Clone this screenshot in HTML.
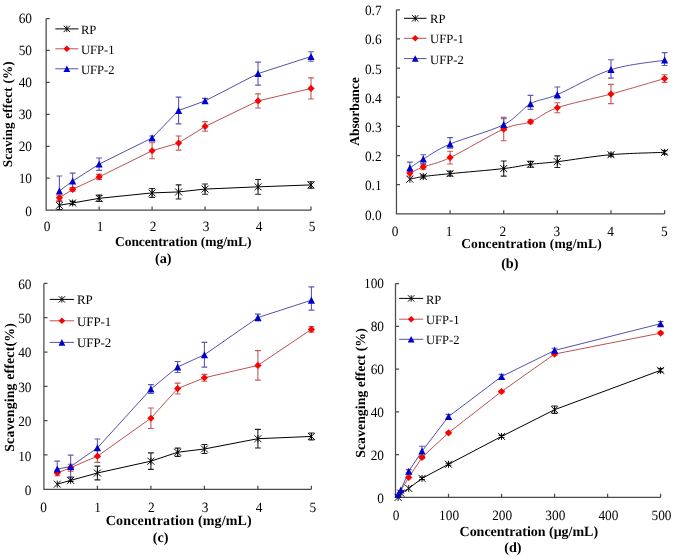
<!DOCTYPE html>
<html><head><meta charset="utf-8"><style>
html,body{margin:0;padding:0;background:#fff;}
svg{display:block;font-family:"Liberation Serif",serif;text-rendering:geometricPrecision;}
.w{position:absolute;left:0;top:0;will-change:transform;filter:blur(0.35px);}
</style></head><body>
<div class="w"><svg width="675" height="558" viewBox="0 0 675 558">
<rect width="675" height="558" fill="#fff"/>
<path d="M46.15,18.50L46.15,210.15L311.00,210.15M46.15,210.15h3.6M46.15,178.21h3.6M46.15,146.27h3.6M46.15,114.33h3.6M46.15,82.38h3.6M46.15,50.44h3.6M46.15,18.50h3.6M46.15,210.15v-3.6M99.12,210.15v-3.6M152.09,210.15v-3.6M205.06,210.15v-3.6M258.03,210.15v-3.6M311.00,210.15v-3.6" stroke="#4a4a4a" stroke-width="1.25" fill="none"/>
<text transform="translate(32.00,215.60) scale(0.94,1)" font-size="14.2" text-anchor="end" font-weight="normal" >0</text>
<text transform="translate(32.00,183.43) scale(0.94,1)" font-size="14.2" text-anchor="end" font-weight="normal" >10</text>
<text transform="translate(32.00,151.27) scale(0.94,1)" font-size="14.2" text-anchor="end" font-weight="normal" >20</text>
<text transform="translate(32.00,119.10) scale(0.94,1)" font-size="14.2" text-anchor="end" font-weight="normal" >30</text>
<text transform="translate(32.00,86.93) scale(0.94,1)" font-size="14.2" text-anchor="end" font-weight="normal" >40</text>
<text transform="translate(32.00,54.77) scale(0.94,1)" font-size="14.2" text-anchor="end" font-weight="normal" >50</text>
<text transform="translate(32.00,22.60) scale(0.94,1)" font-size="14.2" text-anchor="end" font-weight="normal" >60</text>
<text transform="translate(47.00,230.80) scale(0.94,1)" font-size="14.2" text-anchor="middle" font-weight="normal" >0</text>
<text transform="translate(100.00,230.80) scale(0.94,1)" font-size="14.2" text-anchor="middle" font-weight="normal" >1</text>
<text transform="translate(153.00,230.80) scale(0.94,1)" font-size="14.2" text-anchor="middle" font-weight="normal" >2</text>
<text transform="translate(206.00,230.80) scale(0.94,1)" font-size="14.2" text-anchor="middle" font-weight="normal" >3</text>
<text transform="translate(259.00,230.80) scale(0.94,1)" font-size="14.2" text-anchor="middle" font-weight="normal" >4</text>
<text transform="translate(312.00,230.80) scale(0.94,1)" font-size="14.2" text-anchor="middle" font-weight="normal" >5</text>
<path d="M59.39,201.21V209.51M56.49,201.21h5.8M56.49,209.51h5.8M72.64,201.37V204.56M69.73,201.37h5.8M69.73,204.56h5.8M99.12,195.14V201.53M96.22,195.14h5.8M96.22,201.53h5.8M152.09,188.43V197.37M149.19,188.43h5.8M149.19,197.37h5.8M178.58,184.92V198.97M175.68,184.92h5.8M175.68,198.97h5.8M205.06,183.96V194.18M202.16,183.96h5.8M202.16,194.18h5.8M258.03,179.49V194.18M255.13,179.49h5.8M255.13,194.18h5.8M311.00,181.72V188.11M308.10,181.72h5.8M308.10,188.11h5.8" stroke="#202020" stroke-width="1.1" fill="none"/>
<path d="M59.39,195.30V200.41M56.49,195.30h5.8M56.49,200.41h5.8M72.64,187.47V191.30M69.73,187.47h5.8M69.73,191.30h5.8M99.12,174.38V179.49M96.22,174.38h5.8M96.22,179.49h5.8M152.09,142.75V158.72M149.19,142.75h5.8M149.19,158.72h5.8M178.58,136.05V150.10M175.68,136.05h5.8M175.68,150.10h5.8M205.06,121.67V131.25M202.16,121.67h5.8M202.16,131.25h5.8M258.03,93.88V107.94M255.13,93.88h5.8M255.13,107.94h5.8M311.00,77.91V98.99M308.10,77.91h5.8M308.10,98.99h5.8" stroke="#c45a5a" stroke-width="1.1" fill="none"/>
<path d="M59.39,175.97V190.99M56.49,175.97h5.8M72.64,173.10V189.07M69.73,173.10h5.8M69.73,189.07h5.8M99.12,157.93V170.38M96.22,157.93h5.8M96.22,170.38h5.8M152.09,136.05V139.88M149.19,136.05h5.8M149.19,139.88h5.8M178.58,97.08V123.91M175.68,97.08h5.8M175.68,123.91h5.8M205.06,98.35V103.46M202.16,98.35h5.8M202.16,103.46h5.8M258.03,62.10V85.10M255.13,62.10h5.8M255.13,85.10h5.8M311.00,51.72V61.30M308.10,51.72h5.8M308.10,61.30h5.8" stroke="#5a5ab4" stroke-width="1.1" fill="none"/>
<path d="M59.39,205.36L72.64,202.96L99.12,198.33L152.09,192.90L178.58,191.94L205.06,189.07L258.03,186.83L311.00,184.92" stroke="#000000" stroke-width="1.0" fill="none"/>
<path d="M59.39,197.85L72.64,189.39L99.12,176.93L152.09,150.74L178.58,143.07L205.06,126.46L258.03,100.91L311.00,88.45" stroke="#bb5252" stroke-width="1.0" fill="none"/>
<path d="M59.39,190.99L72.64,181.08L99.12,164.15L152.09,137.96L178.58,110.49L205.06,100.91L258.03,73.60L311.00,56.51" stroke="#5252aa" stroke-width="1.0" fill="none"/>
<path d="M59.39,201.86L59.39,208.86M55.89,201.86L62.89,208.86M55.89,208.86L62.89,201.86" stroke="#000" stroke-width="0.95" fill="none"/>
<path d="M72.64,199.46L72.64,206.46M69.14,199.46L76.14,206.46M69.14,206.46L76.14,199.46" stroke="#000" stroke-width="0.95" fill="none"/>
<path d="M99.12,194.83L99.12,201.83M95.62,194.83L102.62,201.83M95.62,201.83L102.62,194.83" stroke="#000" stroke-width="0.95" fill="none"/>
<path d="M152.09,189.40L152.09,196.40M148.59,189.40L155.59,196.40M148.59,196.40L155.59,189.40" stroke="#000" stroke-width="0.95" fill="none"/>
<path d="M178.58,188.44L178.58,195.44M175.08,188.44L182.08,195.44M175.08,195.44L182.08,188.44" stroke="#000" stroke-width="0.95" fill="none"/>
<path d="M205.06,185.57L205.06,192.57M201.56,185.57L208.56,192.57M201.56,192.57L208.56,185.57" stroke="#000" stroke-width="0.95" fill="none"/>
<path d="M258.03,183.33L258.03,190.33M254.53,183.33L261.53,190.33M254.53,190.33L261.53,183.33" stroke="#000" stroke-width="0.95" fill="none"/>
<path d="M311.00,181.42L311.00,188.42M307.50,181.42L314.50,188.42M307.50,188.42L314.50,181.42" stroke="#000" stroke-width="0.95" fill="none"/>
<path d="M59.39,194.25L62.99,197.85L59.39,201.45L55.79,197.85Z" fill="#f00"/>
<path d="M72.64,185.79L76.23,189.39L72.64,192.99L69.04,189.39Z" fill="#f00"/>
<path d="M99.12,173.33L102.72,176.93L99.12,180.53L95.52,176.93Z" fill="#f00"/>
<path d="M152.09,147.14L155.69,150.74L152.09,154.34L148.49,150.74Z" fill="#f00"/>
<path d="M178.58,139.47L182.18,143.07L178.58,146.67L174.98,143.07Z" fill="#f00"/>
<path d="M205.06,122.86L208.66,126.46L205.06,130.06L201.46,126.46Z" fill="#f00"/>
<path d="M258.03,97.31L261.63,100.91L258.03,104.51L254.43,100.91Z" fill="#f00"/>
<path d="M311.00,84.85L314.60,88.45L311.00,92.05L307.40,88.45Z" fill="#f00"/>
<path d="M59.39,187.39L62.99,194.41L55.79,194.41Z" fill="#00c"/>
<path d="M72.64,177.48L76.23,184.50L69.04,184.50Z" fill="#00c"/>
<path d="M99.12,160.55L102.72,167.57L95.52,167.57Z" fill="#00c"/>
<path d="M152.09,134.36L155.69,141.38L148.49,141.38Z" fill="#00c"/>
<path d="M178.58,106.89L182.18,113.91L174.98,113.91Z" fill="#00c"/>
<path d="M205.06,97.31L208.66,104.33L201.46,104.33Z" fill="#00c"/>
<path d="M258.03,70.00L261.63,77.02L254.43,77.02Z" fill="#00c"/>
<path d="M311.00,52.91L314.60,59.93L307.40,59.93Z" fill="#00c"/>
<path d="M55.30,28.90H78.40" stroke="#000000" stroke-width="1.0"/>
<path d="M66.85,25.70L66.85,32.10M63.65,25.70L70.05,32.10M63.65,32.10L70.05,25.70" stroke="#000" stroke-width="0.95" fill="none"/>
<text transform="translate(80.90,34.05) scale(1.0,1)" font-size="12.6" text-anchor="start" font-weight="normal" >RP</text>
<path d="M55.30,48.80H78.40" stroke="#bb5252" stroke-width="1.0"/>
<path d="M66.85,45.50L70.15,48.80L66.85,52.10L63.55,48.80Z" fill="#f00"/>
<text transform="translate(80.90,53.95) scale(1.0,1)" font-size="12.6" text-anchor="start" font-weight="normal" >UFP-1</text>
<path d="M55.30,68.80H78.40" stroke="#5252aa" stroke-width="1.0"/>
<path d="M66.85,65.40L70.25,72.03L63.45,72.03Z" fill="#00c"/>
<text transform="translate(80.90,73.95) scale(1.0,1)" font-size="12.6" text-anchor="start" font-weight="normal" >UFP-2</text>
<text x="183.25" y="246.30" font-size="13.5" text-anchor="middle" font-weight="bold" textLength="136.5" lengthAdjust="spacing">Concentration (mg/mL)</text>
<text x="163.25" y="262.80" font-size="14.2" text-anchor="middle" font-weight="bold">(a)</text>
<text transform="translate(12.40,114.30) rotate(-90)" font-size="13.2" text-anchor="middle" font-weight="bold" textLength="106" lengthAdjust="spacing">Scaving effect (%)</text>
<path d="M396.45,9.75L396.45,213.90L664.60,213.90M396.45,213.90h3.6M396.45,184.74h3.6M396.45,155.57h3.6M396.45,126.41h3.6M396.45,97.24h3.6M396.45,68.08h3.6M396.45,38.91h3.6M396.45,9.75h3.6M396.45,213.90v-3.6M450.08,213.90v-3.6M503.71,213.90v-3.6M557.34,213.90v-3.6M610.97,213.90v-3.6M664.60,213.90v-3.6" stroke="#4a4a4a" stroke-width="1.25" fill="none"/>
<text transform="translate(381.60,219.60) scale(0.94,1)" font-size="14.2" text-anchor="end" font-weight="normal" >0.0</text>
<text transform="translate(381.60,190.40) scale(0.94,1)" font-size="14.2" text-anchor="end" font-weight="normal" >0.1</text>
<text transform="translate(381.60,161.20) scale(0.94,1)" font-size="14.2" text-anchor="end" font-weight="normal" >0.2</text>
<text transform="translate(381.60,132.00) scale(0.94,1)" font-size="14.2" text-anchor="end" font-weight="normal" >0.3</text>
<text transform="translate(381.60,102.80) scale(0.94,1)" font-size="14.2" text-anchor="end" font-weight="normal" >0.4</text>
<text transform="translate(381.60,73.60) scale(0.94,1)" font-size="14.2" text-anchor="end" font-weight="normal" >0.5</text>
<text transform="translate(381.60,44.40) scale(0.94,1)" font-size="14.2" text-anchor="end" font-weight="normal" >0.6</text>
<text transform="translate(381.60,15.20) scale(0.94,1)" font-size="14.2" text-anchor="end" font-weight="normal" >0.7</text>
<text transform="translate(395.20,235.70) scale(0.94,1)" font-size="14.2" text-anchor="middle" font-weight="normal" >0</text>
<text transform="translate(449.04,235.70) scale(0.94,1)" font-size="14.2" text-anchor="middle" font-weight="normal" >1</text>
<text transform="translate(502.88,235.70) scale(0.94,1)" font-size="14.2" text-anchor="middle" font-weight="normal" >2</text>
<text transform="translate(556.72,235.70) scale(0.94,1)" font-size="14.2" text-anchor="middle" font-weight="normal" >3</text>
<text transform="translate(610.56,235.70) scale(0.94,1)" font-size="14.2" text-anchor="middle" font-weight="normal" >4</text>
<text transform="translate(664.40,235.70) scale(0.94,1)" font-size="14.2" text-anchor="middle" font-weight="normal" >5</text>
<path d="M423.26,175.11V178.03M420.37,175.11h5.8M420.37,178.03h5.8M450.08,171.32V175.99M447.18,171.32h5.8M447.18,175.99h5.8M503.71,160.97V176.13M500.81,160.97h5.8M500.81,176.13h5.8M530.52,161.40V167.24M527.62,161.40h5.8M527.62,167.24h5.8M557.34,155.86V167.53M554.44,155.86h5.8M554.44,167.53h5.8M610.97,153.24V156.15M608.07,153.24h5.8M608.07,156.15h5.8M664.60,150.61V154.11M661.70,150.61h5.8M661.70,154.11h5.8" stroke="#202020" stroke-width="1.1" fill="none"/>
<path d="M409.86,170.15V175.99M406.96,170.15h5.8M406.96,175.99h5.8M423.26,164.61V169.28M420.37,164.61h5.8M420.37,169.28h5.8M450.08,151.20V164.03M447.18,151.20h5.8M447.18,164.03h5.8M503.71,117.37V140.70M500.81,117.37h5.8M500.81,140.70h5.8M530.52,119.70V123.78M527.62,119.70h5.8M527.62,123.78h5.8M557.34,102.78V112.70M554.44,102.78h5.8M554.44,112.70h5.8M610.97,84.41V103.66M608.07,84.41h5.8M608.07,103.66h5.8M664.60,74.79V82.37M661.70,74.79h5.8M661.70,82.37h5.8" stroke="#c45a5a" stroke-width="1.1" fill="none"/>
<path d="M409.86,162.13V173.80M406.96,162.13h5.8M406.96,173.80h5.8M423.26,154.70V163.45M420.37,154.70h5.8M420.37,163.45h5.8M450.08,137.64V148.13M447.18,137.64h5.8M447.18,148.13h5.8M503.71,118.82V130.49M500.81,118.82h5.8M500.81,130.49h5.8M530.52,95.35V109.35M527.62,95.35h5.8M527.62,109.35h5.8M557.34,87.04V98.70M554.44,87.04h5.8M554.44,98.70h5.8M610.97,59.77V78.14M608.07,59.77h5.8M608.07,78.14h5.8M664.60,52.62V65.45M661.70,52.62h5.8M661.70,65.45h5.8" stroke="#5a5ab4" stroke-width="1.1" fill="none"/>
<path d="M409.86,179.19C412.09,178.76 416.56,177.49 423.26,176.57C429.97,175.65 436.67,174.99 450.08,173.65C463.49,172.32 490.30,170.10 503.71,168.55C517.12,166.99 521.59,165.46 530.52,164.32C539.46,163.18 543.93,163.30 557.34,161.70C570.75,160.09 593.09,156.25 610.97,154.70C628.85,153.14 655.66,152.75 664.60,152.36" stroke="#000000" stroke-width="1.0" fill="none"/>
<path d="M409.86,173.07C412.09,172.05 416.56,169.52 423.26,166.95C429.97,164.37 436.67,163.93 450.08,157.61C463.49,151.29 490.30,135.01 503.71,129.03C517.12,123.05 521.59,125.29 530.52,121.74C539.46,118.19 543.93,112.36 557.34,107.74C570.75,103.12 593.09,98.90 610.97,94.03C628.85,89.17 655.66,81.15 664.60,78.58" stroke="#bb5252" stroke-width="1.0" fill="none"/>
<path d="M409.86,167.97C412.09,166.48 416.56,163.06 423.26,159.07C429.97,155.09 436.67,149.79 450.08,144.05C463.49,138.32 490.30,131.37 503.71,124.66C517.12,117.95 521.59,108.81 530.52,103.80C539.46,98.80 543.93,100.31 557.34,94.62C570.75,88.93 593.09,75.42 610.97,69.68C628.85,63.95 655.66,61.78 664.60,60.20" stroke="#5252aa" stroke-width="1.0" fill="none"/>
<path d="M409.86,175.69L409.86,182.69M406.36,175.69L413.36,182.69M406.36,182.69L413.36,175.69" stroke="#000" stroke-width="0.95" fill="none"/>
<path d="M423.26,173.07L423.26,180.07M419.76,173.07L426.76,180.07M419.76,180.07L426.76,173.07" stroke="#000" stroke-width="0.95" fill="none"/>
<path d="M450.08,170.15L450.08,177.15M446.58,170.15L453.58,177.15M446.58,177.15L453.58,170.15" stroke="#000" stroke-width="0.95" fill="none"/>
<path d="M503.71,165.05L503.71,172.05M500.21,165.05L507.21,172.05M500.21,172.05L507.21,165.05" stroke="#000" stroke-width="0.95" fill="none"/>
<path d="M530.52,160.82L530.52,167.82M527.02,160.82L534.02,167.82M527.02,167.82L534.02,160.82" stroke="#000" stroke-width="0.95" fill="none"/>
<path d="M557.34,158.20L557.34,165.20M553.84,158.20L560.84,165.20M553.84,165.20L560.84,158.20" stroke="#000" stroke-width="0.95" fill="none"/>
<path d="M610.97,151.20L610.97,158.20M607.47,151.20L614.47,158.20M607.47,158.20L614.47,151.20" stroke="#000" stroke-width="0.95" fill="none"/>
<path d="M664.60,148.86L664.60,155.86M661.10,148.86L668.10,155.86M661.10,155.86L668.10,148.86" stroke="#000" stroke-width="0.95" fill="none"/>
<path d="M409.86,169.47L413.46,173.07L409.86,176.67L406.26,173.07Z" fill="#f00"/>
<path d="M423.26,163.35L426.87,166.95L423.26,170.55L419.66,166.95Z" fill="#f00"/>
<path d="M450.08,154.01L453.68,157.61L450.08,161.21L446.48,157.61Z" fill="#f00"/>
<path d="M503.71,125.43L507.31,129.03L503.71,132.63L500.11,129.03Z" fill="#f00"/>
<path d="M530.52,118.14L534.12,121.74L530.52,125.34L526.92,121.74Z" fill="#f00"/>
<path d="M557.34,104.14L560.94,107.74L557.34,111.34L553.74,107.74Z" fill="#f00"/>
<path d="M610.97,90.43L614.57,94.03L610.97,97.63L607.37,94.03Z" fill="#f00"/>
<path d="M664.60,74.98L668.20,78.58L664.60,82.18L661.00,78.58Z" fill="#f00"/>
<path d="M409.86,164.37L413.46,171.39L406.26,171.39Z" fill="#00c"/>
<path d="M423.26,155.47L426.87,162.49L419.66,162.49Z" fill="#00c"/>
<path d="M450.08,140.45L453.68,147.47L446.48,147.47Z" fill="#00c"/>
<path d="M503.71,121.06L507.31,128.08L500.11,128.08Z" fill="#00c"/>
<path d="M530.52,100.20L534.12,107.22L526.92,107.22Z" fill="#00c"/>
<path d="M557.34,91.02L560.94,98.04L553.74,98.04Z" fill="#00c"/>
<path d="M610.97,66.08L614.57,73.10L607.37,73.10Z" fill="#00c"/>
<path d="M664.60,56.60L668.20,63.62L661.00,63.62Z" fill="#00c"/>
<path d="M403.95,18.30H426.50" stroke="#000000" stroke-width="1.0"/>
<path d="M415.23,15.10L415.23,21.50M412.03,15.10L418.43,21.50M412.03,21.50L418.43,15.10" stroke="#000" stroke-width="0.95" fill="none"/>
<text transform="translate(430.10,23.45) scale(1.0,1)" font-size="12.6" text-anchor="start" font-weight="normal" >RP</text>
<path d="M403.95,38.30H426.50" stroke="#bb5252" stroke-width="1.0"/>
<path d="M415.23,35.00L418.53,38.30L415.23,41.60L411.93,38.30Z" fill="#f00"/>
<text transform="translate(430.10,43.45) scale(1.0,1)" font-size="12.6" text-anchor="start" font-weight="normal" >UFP-1</text>
<path d="M403.95,58.60H426.50" stroke="#5252aa" stroke-width="1.0"/>
<path d="M415.23,55.20L418.62,61.83L411.83,61.83Z" fill="#00c"/>
<text transform="translate(430.10,63.75) scale(1.0,1)" font-size="12.6" text-anchor="start" font-weight="normal" >UFP-2</text>
<text x="531.40" y="247.60" font-size="13.5" text-anchor="middle" font-weight="bold" textLength="140.5" lengthAdjust="spacing">Concentration (mg/mL)</text>
<text x="509.80" y="267.70" font-size="14.2" text-anchor="middle" font-weight="bold">(b)</text>
<text transform="translate(358.70,111.50) rotate(-90)" font-size="13.5" text-anchor="middle" font-weight="bold" textLength="68.5" lengthAdjust="spacing">Absorbance</text>
<path d="M43.90,283.40L43.90,489.30L311.40,489.30M43.90,489.30h3.6M43.90,454.98h3.6M43.90,420.67h3.6M43.90,386.35h3.6M43.90,352.03h3.6M43.90,317.72h3.6M43.90,283.40h3.6M43.90,489.30v-3.6M97.40,489.30v-3.6M150.90,489.30v-3.6M204.40,489.30v-3.6M257.90,489.30v-3.6M311.40,489.30v-3.6" stroke="#4a4a4a" stroke-width="1.25" fill="none"/>
<text transform="translate(31.50,495.05) scale(0.94,1)" font-size="14.2" text-anchor="end" font-weight="normal" >0</text>
<text transform="translate(31.50,460.62) scale(0.94,1)" font-size="14.2" text-anchor="end" font-weight="normal" >10</text>
<text transform="translate(31.50,426.20) scale(0.94,1)" font-size="14.2" text-anchor="end" font-weight="normal" >20</text>
<text transform="translate(31.50,391.77) scale(0.94,1)" font-size="14.2" text-anchor="end" font-weight="normal" >30</text>
<text transform="translate(31.50,357.35) scale(0.94,1)" font-size="14.2" text-anchor="end" font-weight="normal" >40</text>
<text transform="translate(31.50,322.93) scale(0.94,1)" font-size="14.2" text-anchor="end" font-weight="normal" >50</text>
<text transform="translate(31.50,288.50) scale(0.94,1)" font-size="14.2" text-anchor="end" font-weight="normal" >60</text>
<text transform="translate(43.70,512.00) scale(0.94,1)" font-size="14.2" text-anchor="middle" font-weight="normal" >0</text>
<text transform="translate(97.52,512.00) scale(0.94,1)" font-size="14.2" text-anchor="middle" font-weight="normal" >1</text>
<text transform="translate(151.34,512.00) scale(0.94,1)" font-size="14.2" text-anchor="middle" font-weight="normal" >2</text>
<text transform="translate(205.16,512.00) scale(0.94,1)" font-size="14.2" text-anchor="middle" font-weight="normal" >3</text>
<text transform="translate(258.98,512.00) scale(0.94,1)" font-size="14.2" text-anchor="middle" font-weight="normal" >4</text>
<text transform="translate(312.80,512.00) scale(0.94,1)" font-size="14.2" text-anchor="middle" font-weight="normal" >5</text>
<path d="M70.65,476.95V481.41M67.75,476.95h5.8M67.75,481.41h5.8M97.40,466.14V479.86M94.50,466.14h5.8M94.50,479.86h5.8M150.90,452.92V469.40M148.00,452.92h5.8M148.00,469.40h5.8M177.65,448.12V456.36M174.75,448.12h5.8M174.75,456.36h5.8M204.40,444.52V453.44M201.50,444.52h5.8M201.50,453.44h5.8M257.90,429.42V447.95M255.00,429.42h5.8M255.00,447.95h5.8M311.40,433.02V439.88M308.50,433.02h5.8M308.50,439.88h5.8" stroke="#202020" stroke-width="1.1" fill="none"/>
<path d="M57.27,470.25V475.74M54.38,470.25h5.8M54.38,475.74h5.8M70.65,464.25V471.11M67.75,464.25h5.8M67.75,471.11h5.8M97.40,450.01V462.36M94.50,450.01h5.8M94.50,462.36h5.8M150.90,407.97V428.56M148.00,407.97h5.8M148.00,428.56h5.8M177.65,383.09V394.07M174.75,383.09h5.8M174.75,394.07h5.8M204.40,374.34V381.20M201.50,374.34h5.8M201.50,381.20h5.8M257.90,350.66V380.17M255.00,350.66h5.8M255.00,380.17h5.8M311.40,326.64V332.13M308.50,326.64h5.8M308.50,332.13h5.8" stroke="#c45a5a" stroke-width="1.1" fill="none"/>
<path d="M57.27,461.16V469.05M54.38,461.16h5.8M70.65,455.15V477.80M67.75,455.15h5.8M67.75,477.80h5.8M97.40,439.03V456.87M94.50,439.03h5.8M94.50,456.87h5.8M150.90,384.63V393.56M148.00,384.63h5.8M148.00,393.56h5.8M177.65,361.47V372.45M174.75,361.47h5.8M174.75,372.45h5.8M204.40,342.42V367.13M201.50,342.42h5.8M201.50,367.13h5.8M257.90,314.11V320.98M255.00,314.11h5.8M255.00,320.98h5.8M311.40,286.83V310.17M308.50,286.83h5.8M308.50,310.17h5.8" stroke="#5a5ab4" stroke-width="1.1" fill="none"/>
<path d="M57.27,484.15L70.65,480.38L97.40,473.00L150.90,461.16L177.65,452.24L204.40,448.98L257.90,438.68L311.40,436.45" stroke="#000000" stroke-width="1.0" fill="none"/>
<path d="M57.27,473.00L70.65,467.68L97.40,456.18L150.90,418.26L177.65,388.58L204.40,377.77L257.90,365.42L311.40,329.38" stroke="#bb5252" stroke-width="1.0" fill="none"/>
<path d="M57.27,469.05L70.65,466.48L97.40,447.95L150.90,389.10L177.65,366.96L204.40,354.78L257.90,317.55L311.40,300.22" stroke="#5252aa" stroke-width="1.0" fill="none"/>
<path d="M57.27,480.65L57.27,487.65M53.77,480.65L60.77,487.65M53.77,487.65L60.77,480.65" stroke="#000" stroke-width="0.95" fill="none"/>
<path d="M70.65,476.88L70.65,483.88M67.15,476.88L74.15,483.88M67.15,483.88L74.15,476.88" stroke="#000" stroke-width="0.95" fill="none"/>
<path d="M97.40,469.50L97.40,476.50M93.90,469.50L100.90,476.50M93.90,476.50L100.90,469.50" stroke="#000" stroke-width="0.95" fill="none"/>
<path d="M150.90,457.66L150.90,464.66M147.40,457.66L154.40,464.66M147.40,464.66L154.40,457.66" stroke="#000" stroke-width="0.95" fill="none"/>
<path d="M177.65,448.74L177.65,455.74M174.15,448.74L181.15,455.74M174.15,455.74L181.15,448.74" stroke="#000" stroke-width="0.95" fill="none"/>
<path d="M204.40,445.48L204.40,452.48M200.90,445.48L207.90,452.48M200.90,452.48L207.90,445.48" stroke="#000" stroke-width="0.95" fill="none"/>
<path d="M257.90,435.18L257.90,442.18M254.40,435.18L261.40,442.18M254.40,442.18L261.40,435.18" stroke="#000" stroke-width="0.95" fill="none"/>
<path d="M311.40,432.95L311.40,439.95M307.90,432.95L314.90,439.95M307.90,439.95L314.90,432.95" stroke="#000" stroke-width="0.95" fill="none"/>
<path d="M57.27,469.40L60.88,473.00L57.27,476.60L53.67,473.00Z" fill="#f00"/>
<path d="M70.65,464.08L74.25,467.68L70.65,471.28L67.05,467.68Z" fill="#f00"/>
<path d="M97.40,452.58L101.00,456.18L97.40,459.78L93.80,456.18Z" fill="#f00"/>
<path d="M150.90,414.66L154.50,418.26L150.90,421.86L147.30,418.26Z" fill="#f00"/>
<path d="M177.65,384.98L181.25,388.58L177.65,392.18L174.05,388.58Z" fill="#f00"/>
<path d="M204.40,374.17L208.00,377.77L204.40,381.37L200.80,377.77Z" fill="#f00"/>
<path d="M257.90,361.82L261.50,365.42L257.90,369.02L254.30,365.42Z" fill="#f00"/>
<path d="M311.40,325.78L315.00,329.38L311.40,332.98L307.80,329.38Z" fill="#f00"/>
<path d="M57.27,465.45L60.88,472.47L53.67,472.47Z" fill="#00c"/>
<path d="M70.65,462.88L74.25,469.90L67.05,469.90Z" fill="#00c"/>
<path d="M97.40,444.35L101.00,451.37L93.80,451.37Z" fill="#00c"/>
<path d="M150.90,385.50L154.50,392.52L147.30,392.52Z" fill="#00c"/>
<path d="M177.65,363.36L181.25,370.38L174.05,370.38Z" fill="#00c"/>
<path d="M204.40,351.18L208.00,358.20L200.80,358.20Z" fill="#00c"/>
<path d="M257.90,313.95L261.50,320.97L254.30,320.97Z" fill="#00c"/>
<path d="M311.40,296.62L315.00,303.64L307.80,303.64Z" fill="#00c"/>
<path d="M49.70,299.40H74.10" stroke="#000000" stroke-width="1.0"/>
<path d="M61.90,296.20L61.90,302.60M58.70,296.20L65.10,302.60M58.70,302.60L65.10,296.20" stroke="#000" stroke-width="0.95" fill="none"/>
<text transform="translate(76.90,304.20) scale(1.0,1)" font-size="12.9" text-anchor="start" font-weight="normal" >RP</text>
<path d="M49.70,320.80H74.10" stroke="#bb5252" stroke-width="1.0"/>
<path d="M61.90,317.50L65.20,320.80L61.90,324.10L58.60,320.80Z" fill="#f00"/>
<text transform="translate(76.90,325.60) scale(1.0,1)" font-size="12.9" text-anchor="start" font-weight="normal" >UFP-1</text>
<path d="M49.70,342.40H74.10" stroke="#5252aa" stroke-width="1.0"/>
<path d="M61.90,339.00L65.30,345.63L58.50,345.63Z" fill="#00c"/>
<text transform="translate(76.90,347.20) scale(1.0,1)" font-size="12.9" text-anchor="start" font-weight="normal" >UFP-2</text>
<text x="178.75" y="524.50" font-size="14" text-anchor="middle" font-weight="bold" textLength="146" lengthAdjust="spacing">Concentration (mg/mL)</text>
<text x="160.60" y="541.90" font-size="14.2" text-anchor="middle" font-weight="bold">(c)</text>
<text transform="translate(13.80,387.50) rotate(-90)" font-size="13.8" text-anchor="middle" font-weight="bold" textLength="128.5" lengthAdjust="spacing">Scavenging effect(%)</text>
<path d="M395.50,283.50L395.50,497.40L660.60,497.40M395.50,497.40h3.6M395.50,454.62h3.6M395.50,411.84h3.6M395.50,369.06h3.6M395.50,326.28h3.6M395.50,283.50h3.6M395.50,497.40v-3.6M448.52,497.40v-3.6M501.54,497.40v-3.6M554.56,497.40v-3.6M607.58,497.40v-3.6M660.60,497.40v-3.6" stroke="#4a4a4a" stroke-width="1.25" fill="none"/>
<text transform="translate(384.00,503.00) scale(0.94,1)" font-size="14.2" text-anchor="end" font-weight="normal" >0</text>
<text transform="translate(384.00,460.07) scale(0.94,1)" font-size="14.2" text-anchor="end" font-weight="normal" >20</text>
<text transform="translate(384.00,417.14) scale(0.94,1)" font-size="14.2" text-anchor="end" font-weight="normal" >40</text>
<text transform="translate(384.00,374.21) scale(0.94,1)" font-size="14.2" text-anchor="end" font-weight="normal" >60</text>
<text transform="translate(384.00,331.28) scale(0.94,1)" font-size="14.2" text-anchor="end" font-weight="normal" >80</text>
<text transform="translate(384.00,288.35) scale(0.94,1)" font-size="14.2" text-anchor="end" font-weight="normal" >100</text>
<text transform="translate(396.00,519.50) scale(0.94,1)" font-size="14.2" text-anchor="middle" font-weight="normal" >0</text>
<text transform="translate(449.10,519.50) scale(0.94,1)" font-size="14.2" text-anchor="middle" font-weight="normal" >100</text>
<text transform="translate(502.20,519.50) scale(0.94,1)" font-size="14.2" text-anchor="middle" font-weight="normal" >200</text>
<text transform="translate(555.30,519.50) scale(0.94,1)" font-size="14.2" text-anchor="middle" font-weight="normal" >300</text>
<text transform="translate(608.40,519.50) scale(0.94,1)" font-size="14.2" text-anchor="middle" font-weight="normal" >400</text>
<text transform="translate(661.50,519.50) scale(0.94,1)" font-size="14.2" text-anchor="middle" font-weight="normal" >500</text>
<path d="M422.01,477.29V479.43M419.11,477.29h5.8M419.11,479.43h5.8M448.52,463.18V465.31M445.62,463.18h5.8M445.62,465.31h5.8M501.54,435.37V437.51M498.64,435.37h5.8M498.64,437.51h5.8M554.56,406.06V413.34M551.66,406.06h5.8M551.66,413.34h5.8M660.60,368.63V372.05M657.70,368.63h5.8M657.70,372.05h5.8" stroke="#202020" stroke-width="1.1" fill="none"/>
<path d="M422.01,456.33V458.47M419.11,456.33h5.8M419.11,458.47h5.8M448.52,431.73V433.87M445.62,431.73h5.8M445.62,433.87h5.8M501.54,390.45V392.59M498.64,390.45h5.8M498.64,392.59h5.8M554.56,353.02V355.16M551.66,353.02h5.8M551.66,355.16h5.8M660.60,332.06V334.19M657.70,332.06h5.8M657.70,334.19h5.8" stroke="#c45a5a" stroke-width="1.1" fill="none"/>
<path d="M408.75,469.59V473.02M405.86,469.59h5.8M405.86,473.02h5.8M422.01,446.28V456.12M419.11,446.28h5.8M419.11,456.12h5.8M448.52,414.41V418.68M445.62,414.41h5.8M445.62,418.68h5.8M501.54,374.41V378.69M498.64,374.41h5.8M498.64,378.69h5.8M554.56,348.31V352.59M551.66,348.31h5.8M551.66,352.59h5.8M660.60,321.57V325.85M657.70,321.57h5.8M657.70,325.85h5.8" stroke="#5a5ab4" stroke-width="1.1" fill="none"/>
<path d="M398.15,497.40L400.80,493.12L408.75,488.42L422.01,478.36L448.52,464.25L501.54,436.44L554.56,409.70L660.60,370.34" stroke="#000000" stroke-width="1.0" fill="none"/>
<path d="M398.15,494.83L400.80,490.56L408.75,477.51L422.01,457.40L448.52,432.80L501.54,391.52L554.56,354.09L660.60,333.12" stroke="#bb5252" stroke-width="1.0" fill="none"/>
<path d="M398.15,494.41L400.80,490.13L408.75,471.30L422.01,451.20L448.52,416.55L501.54,376.55L554.56,350.45L660.60,323.71" stroke="#5252aa" stroke-width="1.0" fill="none"/>
<path d="M398.15,493.90L398.15,500.90M394.65,493.90L401.65,500.90M394.65,500.90L401.65,493.90" stroke="#000" stroke-width="0.95" fill="none"/>
<path d="M400.80,489.62L400.80,496.62M397.30,489.62L404.30,496.62M397.30,496.62L404.30,489.62" stroke="#000" stroke-width="0.95" fill="none"/>
<path d="M408.75,484.92L408.75,491.92M405.25,484.92L412.25,491.92M405.25,491.92L412.25,484.92" stroke="#000" stroke-width="0.95" fill="none"/>
<path d="M422.01,474.86L422.01,481.86M418.51,474.86L425.51,481.86M418.51,481.86L425.51,474.86" stroke="#000" stroke-width="0.95" fill="none"/>
<path d="M448.52,460.75L448.52,467.75M445.02,460.75L452.02,467.75M445.02,467.75L452.02,460.75" stroke="#000" stroke-width="0.95" fill="none"/>
<path d="M501.54,432.94L501.54,439.94M498.04,432.94L505.04,439.94M498.04,439.94L505.04,432.94" stroke="#000" stroke-width="0.95" fill="none"/>
<path d="M554.56,406.20L554.56,413.20M551.06,406.20L558.06,413.20M551.06,413.20L558.06,406.20" stroke="#000" stroke-width="0.95" fill="none"/>
<path d="M660.60,366.84L660.60,373.84M657.10,366.84L664.10,373.84M657.10,373.84L664.10,366.84" stroke="#000" stroke-width="0.95" fill="none"/>
<path d="M408.75,473.91L412.36,477.51L408.75,481.11L405.15,477.51Z" fill="#f00"/>
<path d="M422.01,453.80L425.61,457.40L422.01,461.00L418.41,457.40Z" fill="#f00"/>
<path d="M448.52,429.20L452.12,432.80L448.52,436.40L444.92,432.80Z" fill="#f00"/>
<path d="M501.54,387.92L505.14,391.52L501.54,395.12L497.94,391.52Z" fill="#f00"/>
<path d="M554.56,350.49L558.16,354.09L554.56,357.69L550.96,354.09Z" fill="#f00"/>
<path d="M660.60,329.52L664.20,333.12L660.60,336.72L657.00,333.12Z" fill="#f00"/>
<path d="M398.15,490.81L401.75,497.83L394.55,497.83Z" fill="#00c"/>
<path d="M400.80,486.53L404.40,493.55L397.20,493.55Z" fill="#00c"/>
<path d="M408.75,467.70L412.36,474.72L405.15,474.72Z" fill="#00c"/>
<path d="M422.01,447.60L425.61,454.62L418.41,454.62Z" fill="#00c"/>
<path d="M448.52,412.95L452.12,419.97L444.92,419.97Z" fill="#00c"/>
<path d="M501.54,372.95L505.14,379.97L497.94,379.97Z" fill="#00c"/>
<path d="M554.56,346.85L558.16,353.87L550.96,353.87Z" fill="#00c"/>
<path d="M660.60,320.11L664.20,327.13L657.00,327.13Z" fill="#00c"/>
<path d="M399.10,298.40H423.20" stroke="#000000" stroke-width="1.0"/>
<path d="M411.15,295.20L411.15,301.60M407.95,295.20L414.35,301.60M407.95,301.60L414.35,295.20" stroke="#000" stroke-width="0.95" fill="none"/>
<text transform="translate(425.90,303.55) scale(1.0,1)" font-size="12.6" text-anchor="start" font-weight="normal" >RP</text>
<path d="M399.10,319.20H423.20" stroke="#bb5252" stroke-width="1.0"/>
<path d="M411.15,315.90L414.45,319.20L411.15,322.50L407.85,319.20Z" fill="#f00"/>
<text transform="translate(425.90,324.35) scale(1.0,1)" font-size="12.6" text-anchor="start" font-weight="normal" >UFP-1</text>
<path d="M399.10,339.30H423.20" stroke="#5252aa" stroke-width="1.0"/>
<path d="M411.15,335.90L414.55,342.53L407.75,342.53Z" fill="#00c"/>
<text transform="translate(425.90,344.45) scale(1.0,1)" font-size="12.6" text-anchor="start" font-weight="normal" >UFP-2</text>
<text x="528.80" y="536.40" font-size="14" text-anchor="middle" font-weight="bold" textLength="138.5" lengthAdjust="spacing">Concentration (μg/mL)</text>
<text x="512.90" y="551.70" font-size="14.2" text-anchor="middle" font-weight="bold">(d)</text>
<text transform="translate(365.00,393.00) rotate(-90)" font-size="13.8" text-anchor="middle" font-weight="bold" textLength="129.5" lengthAdjust="spacing">Scavenging effect (%)</text>
</svg></div></body></html>
